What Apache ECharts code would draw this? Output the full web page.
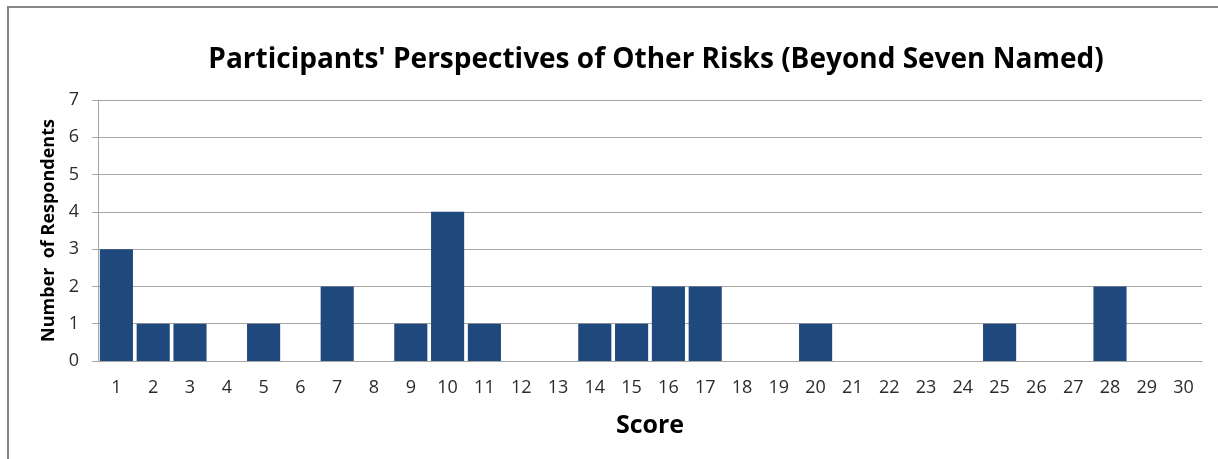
<!DOCTYPE html>
<html>
<head>
<meta charset="utf-8">
<script src="https://cdn.jsdelivr.net/npm/echarts@6/dist/echarts.min.js"></script>
<style>
html,body{margin:0;padding:0;background:#fff;}
#chart{width:1218px;height:459px;}
</style>
</head>
<body>
<div id="chart"></div>
<script>
const categories = ['1','2','3','4','5','6','7','8','9','10','11','12','13','14','15','16','17','18','19','20','21','22','23','24','25','26','27','28','29','30'];
const respondents = [3,1,1,0,1,0,2,0,1,4,1,0,0,1,1,2,2,0,0,1,0,0,0,0,1,0,0,2,0,0];
const yTicks = [0,1,2,3,4,5,6,7];

const chart = echarts.init(document.getElementById('chart'), null, {renderer:'canvas'});
const font = '"Open Sans", "Liberation Sans", sans-serif';
chart.setOption({
  animation:false,
  backgroundColor:'#fff',
  title:{
    text:"Participants' Perspectives of Other Risks (Beyond Seven Named)",
    left:651, top:41, textAlign:'center',
    textStyle:{fontFamily:font, fontSize:28, fontWeight:'bold', color:'#000'}
  },
  graphic:[{
    type:'rect', silent:true,
    shape:{x:8, y:7, width:1240, height:480},
    style:{fill:'none', stroke:'#868686', lineWidth:2}
  }],
  grid:{left:98, right:16, top:100, bottom:98},
  xAxis:{
    type:'category', data:categories,
    name:'Score', nameLocation:'middle', nameGap:52,
    nameTextStyle:{fontFamily:font, fontSize:25, fontWeight:'bold', color:'#000'},
    axisLine:{lineStyle:{color:'#a6a6a6', width:1}},
    axisTick:{show:false},
    axisLabel:{fontFamily:font, fontSize:18, color:'#2b2b2b', margin:18, interval:0}
  },
  yAxis:{
    type:'value', min:0, max:7, interval:1,
    name:'Number  of Respondents', nameLocation:'middle', nameGap:40,
    nameTextStyle:{fontFamily:font, fontSize:18, fontWeight:'bold', color:'#000'},
    axisLine:{show:true, lineStyle:{color:'#a6a6a6'}},
    axisTick:{show:true, length:6, lineStyle:{color:'#a6a6a6'}},
    axisLabel:{fontFamily:font, fontSize:18, color:'#2b2b2b', margin:19,
      formatter:v => yTicks.includes(v) ? String(v) : ''},
    splitLine:{lineStyle:{color:'#a6a6a6', width:1}}
  },
  series:[{
    type:'bar', data:respondents,
    barCategoryGap:'10%',
    itemStyle:{color:'#1f497d'}
  }]
});
</script>
</body>
</html>
